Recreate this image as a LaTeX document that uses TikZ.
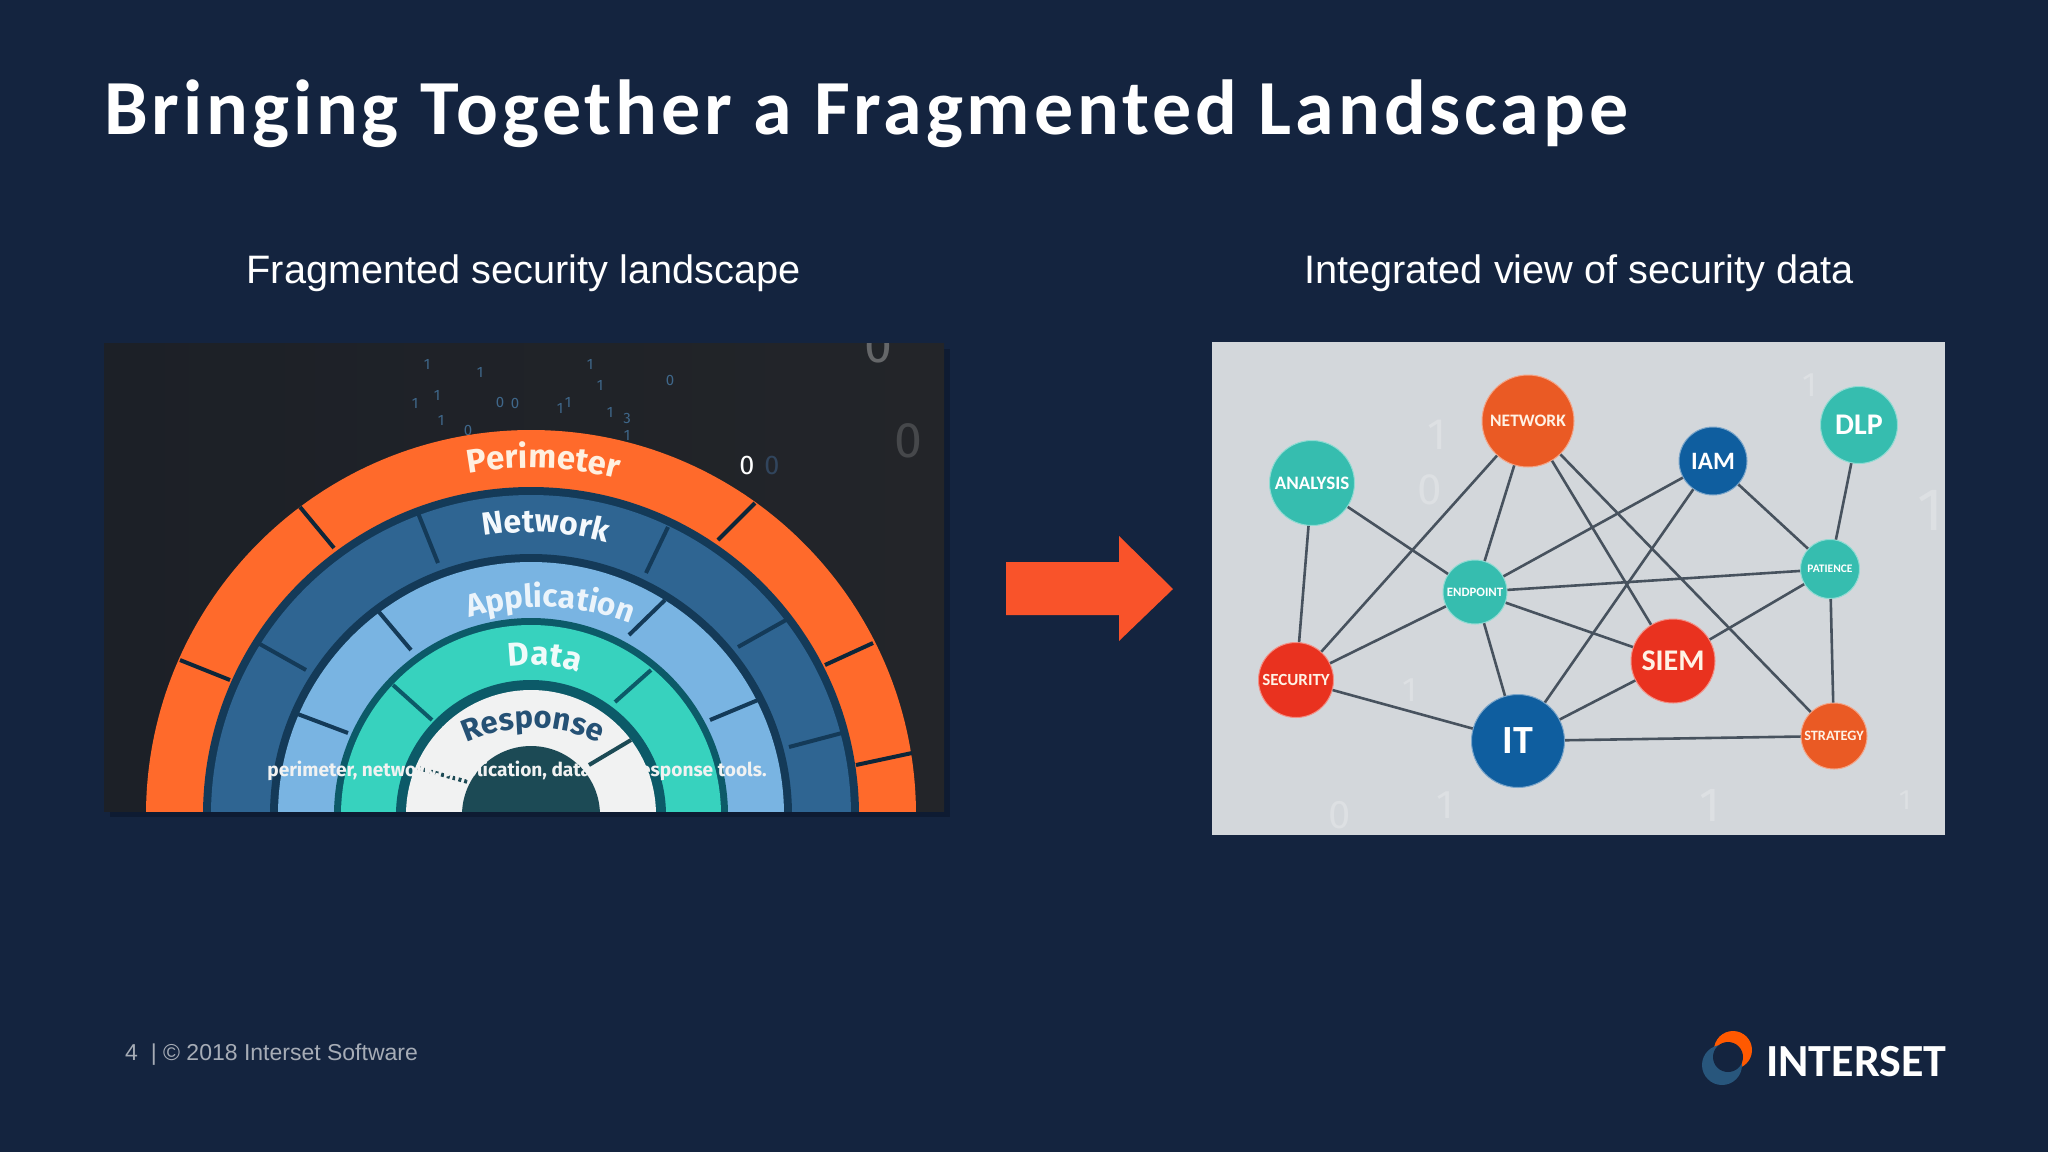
\documentclass[tikz,border=0pt]{standalone}
\usepackage{fontspec}
\usetikzlibrary{decorations.text}
\setmainfont{Liberation Sans}
\newfontfamily\titlefont[LetterSpace=5]{Carlito}
\newfontfamily\logofont{Carlito}
\newfontfamily\ringfont{Fira Sans}
\definecolor{slidebg}{HTML}{14243F}
\definecolor{shadowbg}{HTML}{0E1B32}
\definecolor{picleft}{HTML}{1C2027}
\definecolor{picmid}{HTML}{0F2742}
\definecolor{picright}{HTML}{232529}
\definecolor{picorange}{HTML}{FF6A2B}
\definecolor{picblue}{HTML}{2F6592}
\definecolor{piclight}{HTML}{79B4E2}
\definecolor{picteal}{HTML}{37D2BE}
\definecolor{picwhite}{HTML}{F1F2F2}
\definecolor{gapdark}{HTML}{143A58}
\definecolor{gapteal}{HTML}{0C5A68}
\definecolor{coredark}{HTML}{1C4A55}
\definecolor{nodeteal}{HTML}{36BDAF}
\definecolor{nodeorange}{HTML}{EA5A24}
\definecolor{nodered}{HTML}{E9321F}
\definecolor{nodeblue}{HTML}{0F5E9F}
\definecolor{edgegrey}{HTML}{47525E}
\definecolor{greypic}{HTML}{D3D7DB}
\definecolor{greydigit}{HTML}{DDE0E3}
\definecolor{arroworange}{HTML}{F9532A}
\tikzset{
  bignode/.style={circle,inner sep=0pt,draw=#1!55,line width=1pt,fill=#1,font=\logofont\bfseries},
  graphedge/.style={edgegrey,line width=2.6pt},
  sep/.style={gapdark,line width=4pt},
  ringtext/.style={decorate,decoration={text along path,text align=center,text={#1}}},
  digit/.style={text=#1,font=\ringfont\fontsize{15}{15}\selectfont,inner sep=0pt}
}
\begin{document}
\begin{tikzpicture}[x=1pt,y=1pt]
\useasboundingbox (0,-1152) rectangle (2048,0);
\fill [slidebg] (0,-1152) rectangle (2048,0);

% Title and headings
\node [anchor=base west,text=white,inner sep=0pt,font=\titlefont\bfseries\fontsize{78}{78}\selectfont] (title) at (104,-134) {Bringing Together a Fragmented Landscape};
\node [anchor=base,text=white,inner sep=0pt,font=\fontsize{39.7}{39.7}\selectfont] (lefthead) at (523.5,-283) {Fragmented security landscape};
\node [anchor=base,text=white,inner sep=0pt,font=\fontsize{39.7}{39.7}\selectfont] (righthead) at (1579,-283) {Integrated view of security data};

% Left picture
\fill [shadowbg] (110,-817) rectangle (950,-349);
\fill [left color=picleft,middle color=picmid,right color=picright] (104,-811) rectangle (944,-343);

\begin{scope}
\clip (104,-811) rectangle (944,-343);

% Digits over the left picture
\foreach \px/\py/\dg in {437/-395/1,441/-420/1,415/-403/1,480/-372/1,427/-364/1,500/-402/0,
  515/-403/0,560/-408/1,568/-402/1,610/-412/1,627/-418/3,627/-435/1,600/-385/1,
  590/-364/1,468/-430/0,670/-380/0}
  \node [digit=piclight!45!picmid] at (\px,\py) {\dg};
\node [digit=white!30!picright,font=\ringfont\fontsize{50}{50}\selectfont] at (878,-346) {0};
\node [digit=white!16!picright,font=\ringfont\fontsize{50}{50}\selectfont] at (908,-441) {0};
\node [digit=white!14!picmid,font=\ringfont\fontsize{27}{27}\selectfont] at (772,-465) {0};
\node [digit=white,font=\ringfont\fontsize{27}{27}\selectfont] (zero) at (747,-465) {0};

% Rings
\coordinate (c) at (531,-815);
\fill [picorange] (c) circle [radius=385];
\fill [gapdark] (c) circle [radius=328];
\fill [picblue] (c) circle [radius=320];
\fill [gapdark] (c) circle [radius=261];
\fill [piclight] (c) circle [radius=253];
\fill [gapteal] (c) circle [radius=197];
\fill [picteal] (c) circle [radius=190];
\fill [gapteal] (c) circle [radius=135];
\fill [picwhite] (c) circle [radius=125];
\fill [coredark] (c) circle [radius=69];

% Ring separators
\draw [sep,black!35!gapdark] (300,-507)--(334,-548);
\draw [sep,black!35!gapdark] (180,-660)--(230,-680);
\draw [sep,black!35!gapdark] (755,-503)--(718,-540);
\draw [sep,black!35!gapdark] (873,-643)--(825,-665);
\draw [sep,black!35!gapdark] (912,-753)--(856,-765);

\draw [sep] (418,-513)--(438,-563);
\draw [sep] (258,-643)--(306,-670);
\draw [sep] (668,-527)--(646,-573);
\draw [sep] (786,-620)--(738,-647);
\draw [sep] (842,-733)--(789,-747);

\draw [sep] (379,-612)--(411,-650);
\draw [sep] (665,-600)--(629,-635);
\draw [sep] (295,-713)--(348,-733);
\draw [sep] (758,-700)--(710,-720);

\draw [sep,gapteal] (393,-685)--(432,-720);
\draw [sep,gapteal] (651,-670)--(615,-702);

\draw [sep,coredark] (631,-740)--(589,-765);
\draw [sep,coredark,dashed] (418,-768)--(468,-782);
\end{scope}

% Ring labels
\path [ringtext={|\ringfont\bfseries\fontsize{33}{33}\selectfont\color{orange!12!white}|Perimeter}] (531,-815) ++(118:347) arc [start angle=118,end angle=58,radius=347];
\path [ringtext={|\ringfont\bfseries\fontsize{32}{32}\selectfont\color{white!92!piclight}|Network}] (531,-815) ++(120:283) arc [start angle=120,end angle=54,radius=283];
\path [ringtext={|\ringfont\bfseries\fontsize{31.5}{31.5}\selectfont\color{white!85!piclight}|Application}] (542,-850) ++(126:243) arc [start angle=126,end angle=50,radius=243];
\path [ringtext={|\ringfont\bfseries\fontsize{33}{33}\selectfont\color{white!92!picteal}|Data}] (531,-815) ++(118:150) arc [start angle=118,end angle=52,radius=150];
\path [ringtext={|\ringfont\bfseries\fontsize{31}{31}\selectfont\color{picblue!80!black}|Response}] (533,-888) ++(118:160) arc [start angle=118,end angle=62,radius=160];

% Caption of the left picture, white on white where it crosses the inner ring
\node [text=picwhite,inner sep=0pt,font=\ringfont\bfseries\fontsize{19.1}{19.1}\selectfont] (caption) at (517,-771) {perimeter, network, application, data and response tools.};

% Arrow
\fill [arroworange] (1006,-562)--(1119,-562)--(1119,-536)--(1173,-589)--(1119,-641)--(1119,-615)--(1006,-615)--cycle;

% Right picture
\fill [greypic] (1212,-835) rectangle (1945,-342);
\foreach \px/\py/\dg/\fs in {1810/-385/1/34,1437/-435/1/44,1430/-490/0/44,1410/-690/1/34,
  1340/-815/0/40,1445/-805/1/40,1710/-805/1/48,1905/-800/1/28,1930/-510/1/60}
  \node [text=greydigit,inner sep=0pt,font=\ringfont\fontsize{\fs}{\fs}\selectfont] at (\px,\py) {\dg};

% Graph nodes
\node [bignode=nodeorange,minimum size=92pt,text=orange!10!white,font=\logofont\bfseries\fontsize{17.5}{17.5}\selectfont] (network) at (1528,-421) {NETWORK};
\node [bignode=nodeteal,minimum size=85pt,text=white,font=\logofont\bfseries\fontsize{19}{19}\selectfont] (analysis) at (1312,-483) {ANALYSIS};
\node [bignode=nodeblue,minimum size=68pt,text=white,font=\logofont\bfseries\fontsize{25}{25}\selectfont] (iam) at (1713,-461) {IAM};
\node [bignode=nodeteal,minimum size=77pt,text=white,font=\logofont\bfseries\fontsize{30}{30}\selectfont] (dlp) at (1859,-425) {DLP};
\node [bignode=nodeteal,minimum size=59pt,text=white,font=\logofont\bfseries\fontsize{11.5}{11.5}\selectfont] (patience) at (1830,-569) {PATIENCE};
\node [bignode=nodeteal,minimum size=64pt,text=white,font=\logofont\bfseries\fontsize{12.8}{12.8}\selectfont] (endpoint) at (1475,-592) {ENDPOINT};
\node [bignode=nodered,minimum size=75pt,text=orange!10!white,font=\logofont\bfseries\fontsize{17}{17}\selectfont] (security) at (1296,-680) {SECURITY};
\node [bignode=nodered,minimum size=84pt,text=orange!10!white,font=\logofont\bfseries\fontsize{30}{30}\selectfont] (siem) at (1673,-661) {SIEM};
\node [bignode=nodeblue,minimum size=93pt,text=white,font=\logofont\bfseries\fontsize{40}{40}\selectfont] (it) at (1518,-741) {IT};
\node [bignode=nodeorange,minimum size=66pt,text=orange!10!white,font=\logofont\bfseries\fontsize{14.3}{14.3}\selectfont] (strategy) at (1834,-736) {STRATEGY};

% Graph edges
\draw [graphedge] (network)--(endpoint);
\draw [graphedge] (network)--(security);
\draw [graphedge] (network)--(siem);
\draw [graphedge] (network)--(strategy);
\draw [graphedge] (analysis)--(endpoint);
\draw [graphedge] (analysis)--(security);
\draw [graphedge] (iam)--(endpoint);
\draw [graphedge] (iam)--(it);
\draw [graphedge] (iam)--(patience);
\draw [graphedge] (dlp)--(patience);
\draw [graphedge] (endpoint)--(patience);
\draw [graphedge] (endpoint)--(siem);
\draw [graphedge] (endpoint)--(security);
\draw [graphedge] (endpoint)--(it);
\draw [graphedge] (security)--(it);
\draw [graphedge] (siem)--(it);
\draw [graphedge] (siem)--(patience);
\draw [graphedge] (patience)--(strategy);
\draw [graphedge] (it)--(strategy);

% Footer
\node [anchor=base west,text=white!62!slidebg,inner sep=0pt,font=\fontsize{23}{23}\selectfont] (footer) at (125,-1060) {4 \ | © 2018 Interset Software};

% Logo
\fill [orange!70!red] (1733,-1050) circle [radius=19];
\fill [picblue!85!black] (1722,-1065) circle [radius=20];
\fill [slidebg] (1728,-1057) circle [radius=15];
\node [anchor=base west,text=white,inner sep=0pt,font=\logofont\bfseries\fontsize{46}{46}\selectfont] (logotext) at (1766,-1076) {INTERSET};
\end{tikzpicture}
\end{document}
